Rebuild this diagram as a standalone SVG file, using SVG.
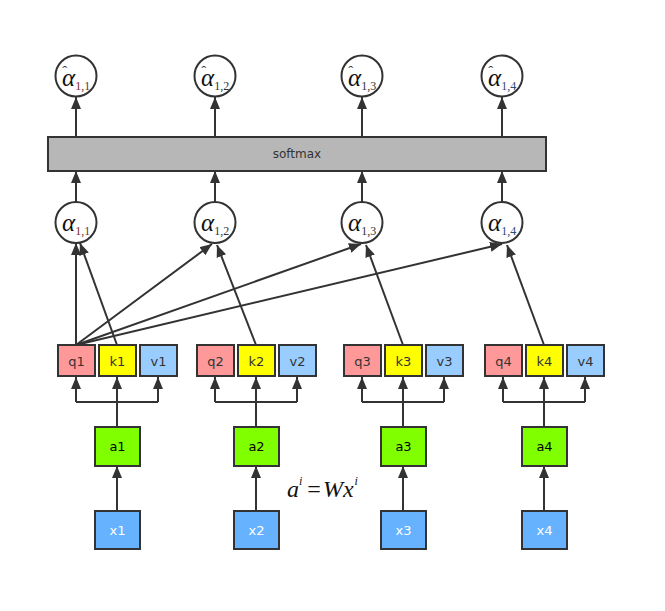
<svg xmlns="http://www.w3.org/2000/svg" width="665" height="611" viewBox="0 0 665 611">
<defs>
<marker id="ah" markerUnits="userSpaceOnUse" markerWidth="14" markerHeight="12" refX="12" refY="5" orient="auto">
<path d="M0,0 L12,5 L0,10 z" fill="#333"/>
</marker>
<style>
.box{stroke:#333;stroke-width:2}
.q{fill:#FF9999}.k{fill:#FFFF00}.v{fill:#99CCFF}.a{fill:#80FF00}.x{fill:#66B2FF}
.lbl{font-family:"DejaVu Sans",sans-serif;font-size:13px;fill:#333;text-anchor:middle}
.wl{fill:#fff}.bl{fill:#000}
.circ{fill:#fff;stroke:#333;stroke-width:2}
.al{font-family:"Liberation Serif",serif;font-style:italic;font-size:25px;fill:#111}
.sub{font-family:"Liberation Serif",serif;font-style:normal;font-size:12px;fill:#333}
.hat{font-family:"Liberation Serif",serif;font-style:normal;font-size:15px;fill:#333}
.s11{fill:#7a3020}.s14{fill:#2a4a7a}
.ln{stroke:#333;stroke-width:2;fill:none}
.arr{stroke:#333;stroke-width:2;fill:none;marker-end:url(#ah)}
.fm{font-family:"Liberation Serif",serif;font-style:italic;font-size:24px;fill:#111}
.sup{font-family:"Liberation Serif",serif;font-style:italic;font-size:12px;fill:#111}
</style>
</defs>
<rect width="665" height="611" fill="#fff"/>

<g id="connectors">
<line class="arr" x1="76" y1="137" x2="76" y2="97"/>
<line class="arr" x1="215" y1="137" x2="215" y2="97"/>
<line class="arr" x1="362" y1="137" x2="362" y2="97"/>
<line class="arr" x1="502" y1="137" x2="502" y2="97"/>
<line class="arr" x1="76" y1="202" x2="76" y2="171"/>
<line class="arr" x1="215" y1="202" x2="215" y2="171"/>
<line class="arr" x1="362" y1="202" x2="362" y2="171"/>
<line class="arr" x1="502" y1="202" x2="502" y2="171"/>
<line class="arr" x1="76" y1="345" x2="76" y2="243"/>
<line class="arr" x1="76" y1="345" x2="212" y2="244"/>
<line class="arr" x1="76" y1="345" x2="361" y2="244"/>
<line class="arr" x1="76" y1="345" x2="502" y2="244"/>
<line class="arr" x1="117" y1="345" x2="80" y2="243"/>
<line class="arr" x1="256" y1="345" x2="217" y2="245"/>
<line class="arr" x1="403" y1="345" x2="366" y2="245"/>
<line class="arr" x1="544" y1="345" x2="507" y2="245"/>
<line class="arr" x1="117" y1="427" x2="117" y2="377"/>
<path class="ln" d="M76,402 H158"/>
<line class="arr" x1="76" y1="402" x2="76" y2="377"/>
<line class="arr" x1="158" y1="402" x2="158" y2="377"/>
<line class="arr" x1="256" y1="427" x2="256" y2="377"/>
<path class="ln" d="M215,402 H297"/>
<line class="arr" x1="215" y1="402" x2="215" y2="377"/>
<line class="arr" x1="297" y1="402" x2="297" y2="377"/>
<line class="arr" x1="403" y1="427" x2="403" y2="377"/>
<path class="ln" d="M362,402 H444"/>
<line class="arr" x1="362" y1="402" x2="362" y2="377"/>
<line class="arr" x1="444" y1="402" x2="444" y2="377"/>
<line class="arr" x1="544" y1="427" x2="544" y2="377"/>
<path class="ln" d="M503,402 H585"/>
<line class="arr" x1="503" y1="402" x2="503" y2="377"/>
<line class="arr" x1="585" y1="402" x2="585" y2="377"/>
<line class="arr" x1="117" y1="511" x2="117" y2="466"/>
<line class="arr" x1="256" y1="511" x2="256" y2="466"/>
<line class="arr" x1="403" y1="511" x2="403" y2="466"/>
<line class="arr" x1="544" y1="511" x2="544" y2="466"/>
</g>

<g id="softmax">
<rect class="box" x="48" y="137" width="498" height="34" fill="#B7B7B7"/>
<text class="lbl" x="297" y="158" style="font-size:12px">softmax</text>
</g>

<g id="hat11"><circle class="circ" cx="76" cy="76" r="20.5"/><text class="al" x="62" y="86">α<tspan class="hat" dx="-13" dy="-10">ˆ</tspan><tspan class="sub s11" dx="8" dy="14">1,1</tspan></text></g>
<g id="hat12"><circle class="circ" cx="215" cy="76" r="20.5"/><text class="al" x="201" y="86">α<tspan class="hat" dx="-13" dy="-10">ˆ</tspan><tspan class="sub" dx="8" dy="14">1,2</tspan></text></g>
<g id="hat13"><circle class="circ" cx="362" cy="76" r="20.5"/><text class="al" x="348" y="86">α<tspan class="hat" dx="-13" dy="-10">ˆ</tspan><tspan class="sub" dx="8" dy="14">1,3</tspan></text></g>
<g id="hat14"><circle class="circ" cx="502" cy="76" r="20.5"/><text class="al" x="488" y="86">α<tspan class="hat" dx="-13" dy="-10">ˆ</tspan><tspan class="sub s14" dx="8" dy="14">1,4</tspan></text></g>

<g id="a11"><circle class="circ" cx="76" cy="222.5" r="20.5"/><text class="al" x="62" y="231">α<tspan class="sub s11" dy="4">1,1</tspan></text></g>
<g id="a12"><circle class="circ" cx="215" cy="222.5" r="20.5"/><text class="al" x="201" y="231">α<tspan class="sub" dy="4">1,2</tspan></text></g>
<g id="a13"><circle class="circ" cx="362" cy="222.5" r="20.5"/><text class="al" x="348" y="231">α<tspan class="sub" dy="4">1,3</tspan></text></g>
<g id="a14"><circle class="circ" cx="502" cy="222.5" r="20.5"/><text class="al" x="488" y="231">α<tspan class="sub s14" dy="4">1,4</tspan></text></g>

<g id="q1"><rect class="box q" x="58" y="345" width="37" height="31"/><text class="lbl" x="76.5" y="365.5">q1</text></g>
<g id="k1"><rect class="box k" x="99" y="345" width="37" height="31"/><text class="lbl" x="117.5" y="365.5">k1</text></g>
<g id="v1"><rect class="box v" x="140" y="345" width="37" height="31"/><text class="lbl" x="158.5" y="365.5">v1</text></g>
<g id="a1"><rect class="box a" x="95" y="427" width="45" height="39"/><text class="lbl bl" x="117.5" y="451">a1</text></g>
<g id="x1"><rect class="box x" x="95" y="511" width="45" height="38"/><text class="lbl wl" x="117.5" y="535">x1</text></g>

<g id="q2"><rect class="box q" x="197" y="345" width="37" height="31"/><text class="lbl" x="215.5" y="365.5">q2</text></g>
<g id="k2"><rect class="box k" x="238" y="345" width="37" height="31"/><text class="lbl" x="256.5" y="365.5">k2</text></g>
<g id="v2"><rect class="box v" x="279" y="345" width="37" height="31"/><text class="lbl" x="297.5" y="365.5">v2</text></g>
<g id="a2"><rect class="box a" x="234" y="427" width="45" height="39"/><text class="lbl bl" x="256.5" y="451">a2</text></g>
<g id="x2"><rect class="box x" x="234" y="511" width="45" height="38"/><text class="lbl wl" x="256.5" y="535">x2</text></g>

<g id="q3"><rect class="box q" x="344" y="345" width="37" height="31"/><text class="lbl" x="362.5" y="365.5">q3</text></g>
<g id="k3"><rect class="box k" x="385" y="345" width="37" height="31"/><text class="lbl" x="403.5" y="365.5">k3</text></g>
<g id="v3"><rect class="box v" x="426" y="345" width="37" height="31"/><text class="lbl" x="444.5" y="365.5">v3</text></g>
<g id="a3"><rect class="box a" x="381" y="427" width="45" height="39"/><text class="lbl bl" x="403.5" y="451">a3</text></g>
<g id="x3"><rect class="box x" x="381" y="511" width="45" height="38"/><text class="lbl wl" x="403.5" y="535">x3</text></g>

<g id="q4"><rect class="box q" x="485" y="345" width="37" height="31"/><text class="lbl" x="503.5" y="365.5">q4</text></g>
<g id="k4"><rect class="box k" x="526" y="345" width="37" height="31"/><text class="lbl" x="544.5" y="365.5">k4</text></g>
<g id="v4"><rect class="box v" x="567" y="345" width="37" height="31"/><text class="lbl" x="585.5" y="365.5">v4</text></g>
<g id="a4"><rect class="box a" x="522" y="427" width="45" height="39"/><text class="lbl bl" x="544.5" y="451">a4</text></g>
<g id="x4"><rect class="box x" x="522" y="511" width="45" height="38"/><text class="lbl wl" x="544.5" y="535">x4</text></g>

<g id="formula">
<text class="fm" x="287" y="497">a<tspan class="sup" dy="-12">i</tspan><tspan dx="5" dy="12" style="font-style:normal">=</tspan><tspan dx="2">Wx</tspan><tspan class="sup" dy="-12" dx="1">i</tspan></text>
</g>
</svg>
